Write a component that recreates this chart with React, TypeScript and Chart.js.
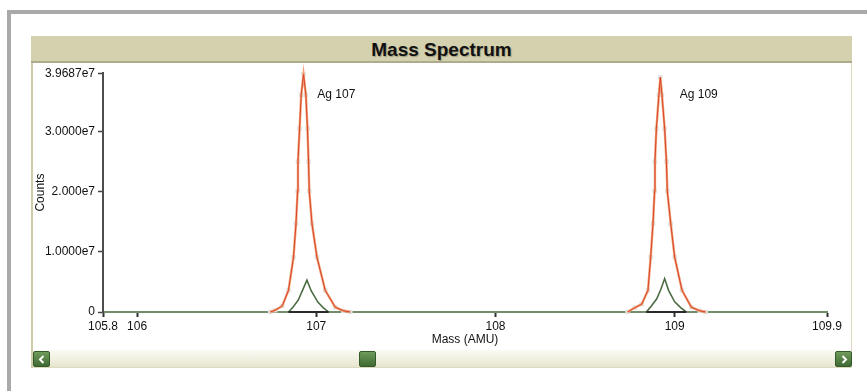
import React, { useEffect, useRef } from "react";
import { Chart, registerables } from "chart.js";

Chart.register(...registerables);

// ---- data ----
const orangeMass107 = [106.743, 106.771, 106.81, 106.845, 106.873, 106.887, 106.896, 106.898, 106.907, 106.916, 106.929, 106.942, 106.951, 106.957, 106.961, 106.976, 107.004, 107.05, 107.106, 107.151, 107.19];
const orangeCounts107 = [0, 0.03e7, 0.1e7, 0.36e7, 0.91e7, 1.47e7, 2.01e7, 2.5e7, 3.05e7, 3.61e7, 3.95e7, 3.61e7, 3.05e7, 2.5e7, 2.01e7, 1.47e7, 0.91e7, 0.36e7, 0.08e7, 0.02e7, 0];

const orangeMass109 = [108.737, 108.777, 108.816, 108.851, 108.866, 108.879, 108.888, 108.89, 108.898, 108.912, 108.92, 108.929, 108.944, 108.954, 108.959, 108.978, 109.0, 109.041, 109.093, 109.14, 109.173];
const orangeCounts109 = [0, 0.07e7, 0.13e7, 0.36e7, 0.91e7, 1.47e7, 2.01e7, 2.5e7, 3.05e7, 3.61e7, 3.9e7, 3.61e7, 3.05e7, 2.5e7, 2.01e7, 1.47e7, 0.91e7, 0.36e7, 0.08e7, 0.02e7, 0];

const greenMass107 = [106.845, 106.87, 106.9, 106.922, 106.948, 106.972, 107.01, 107.04, 107.069];
const greenCounts107 = [0, 0.08e7, 0.2e7, 0.35e7, 0.53e7, 0.35e7, 0.16e7, 0.07e7, 0];

const greenMass109 = [108.842, 108.87, 108.9, 108.922, 108.944, 108.966, 109.0, 109.035, 109.065];
const greenCounts109 = [0, 0.1e7, 0.22e7, 0.37e7, 0.555e7, 0.36e7, 0.17e7, 0.07e7, 0];

const peakLabels = ["Ag 107", "Ag 109"];
const peakLabelMass = [107.006, 109.028];
const peakLabelCounts = [3.61e7, 3.61e7];

const xMin = 105.81;
const xMax = 109.85;
const xTickValues = [105.81, 106, 107, 108, 109, 109.85];
const xTickLabels = ["105.8", "106", "107", "108", "109", "109.9"];

const yMax = 3.9687e7;
const yTickValues = [0, 1e7, 2e7, 3e7, 3.9687e7];
const yTickLabels = ["0", "1.0000e7", "2.000e7", "3.0000e7", "3.9687e7"];

const zip = (xs: number[], ys: number[]) => xs.map((x, i) => ({ x, y: ys[i] }));

const FONT = "'Liberation Sans', Arial, sans-serif";

const labelPlugin = {
  id: "peakLabels",
  afterDatasetsDraw(chart: any) {
    const { ctx, scales } = chart;
    ctx.save();
    ctx.font = `12px ${FONT}`;
    ctx.fillStyle = "#111";
    ctx.textAlign = "left";
    ctx.textBaseline = "middle";
    peakLabels.forEach((t, i) => {
      ctx.fillText(t, scales.x.getPixelForValue(peakLabelMass[i]), scales.y.getPixelForValue(peakLabelCounts[i]));
    });
    ctx.restore();
  },
};

function Chevron({ dir }: { dir: "l" | "r" }) {
  return (
    <svg width="16" height="15" style={{ position: "absolute", left: 0, top: 0 }}>
      <polyline
        points={dir === "l" ? "9.5,4 6,7.5 9.5,11" : "6.5,4 10,7.5 6.5,11"}
        fill="none"
        stroke="#fff"
        strokeWidth="2"
      />
    </svg>
  );
}

const btnStyle: React.CSSProperties = {
  position: "absolute",
  width: 15,
  height: 14,
  top: 351,
  background: "linear-gradient(#6f9c5c, #3f6a33)",
  border: "1px solid #34592b",
  borderRadius: 2,
};

export default function App() {
  const ref = useRef<HTMLCanvasElement>(null);

  useEffect(() => {
    if (!ref.current) return;
    const grayPts = (data: any) => ({
      data,
      borderColor: "rgba(0,0,0,0)",
      backgroundColor: "#e2e2e2",
      pointRadius: 3.2,
      pointStyle: "rect",
      showLine: false,
      order: 10,
      clip: false as any,
    });
    const orangeWide = (data: any) => ({
      data,
      borderColor: "#f0a276",
      borderWidth: 2.4,
      pointRadius: 0,
      tension: 0,
      order: 3,
      clip: false as any,
    });
    const orangeCore = (data: any) => ({
      data,
      borderColor: "#d9452b",
      borderWidth: 1,
      pointRadius: 0,
      tension: 0,
      order: 2,
      clip: false as any,
    });
    const green = (data: any) => ({
      data,
      borderColor: "#4b6c43",
      borderWidth: 1.6,
      pointRadius: 0,
      tension: 0,
      order: 1,
      clip: false as any,
    });
    const base = (m: number[]) => ({
      data: [{ x: m[0], y: 0 }, { x: m[m.length - 1], y: 0 }],
      borderColor: "#2a2a2a",
      borderWidth: 2,
      pointRadius: 0,
      order: 0,
      clip: false as any,
    });
    const o107 = zip(orangeMass107, orangeCounts107);
    const o109 = zip(orangeMass109, orangeCounts109);
    const g107 = zip(greenMass107, greenCounts107);
    const g109 = zip(greenMass109, greenCounts109);

    const chart = new Chart(ref.current, {
      type: "line",
      data: {
        datasets: [
          grayPts(o107) as any,
          grayPts(o109) as any,
          orangeWide(o107),
          orangeWide(o109),
          orangeCore(o107),
          orangeCore(o109),
          base(greenMass107),
          base(greenMass109),
          green(g107),
          green(g109),
        ],
      },
      options: {
        animation: false,
        responsive: false,
        maintainAspectRatio: false,
        layout: { padding: { top: 7, right: 23, left: 0, bottom: 0 } },
        plugins: { legend: { display: false }, tooltip: { enabled: false } },
        scales: {
          x: {
            type: "linear",
            min: xMin,
            max: xMax,
            afterBuildTicks: (s: any) => {
              s.ticks = xTickValues.map((v) => ({ value: v }));
            },
            afterFit: (s: any) => {
              s.height = 37;
            },
            ticks: {
              autoSkip: false,
              maxRotation: 0,
              padding: 2,
              color: "#111",
              font: { family: FONT, size: 12 },
              callback: (v: any) => {
                const i = xTickValues.indexOf(Number(v));
                return i >= 0 ? xTickLabels[i] : "";
              },
            },
            grid: { drawOnChartArea: false, drawTicks: true, tickLength: 5, tickColor: "#333", tickWidth: 2 },
            border: { display: true, color: "#738c6b", width: 2 },
            title: {
              display: true,
              text: "Mass (AMU)",
              color: "#111",
              font: { family: FONT, size: 12 },
              padding: { top: 0, bottom: 2 },
            },
          },
          y: {
            type: "linear",
            min: 0,
            max: yMax,
            afterBuildTicks: (s: any) => {
              s.ticks = yTickValues.map((v) => ({ value: v }));
            },
            afterFit: (s: any) => {
              s.width = 70;
            },
            ticks: {
              autoSkip: false,
              padding: 3,
              color: "#111",
              font: { family: FONT, size: 12 },
              callback: (v: any) => {
                const i = yTickValues.indexOf(Number(v));
                return i >= 0 ? yTickLabels[i] : "";
              },
            },
            grid: { drawOnChartArea: false, drawTicks: true, tickLength: 5, tickColor: "#444", tickWidth: 1.5 },
            border: { display: true, color: "#4d4d4d", width: 2 },
            title: {
              display: true,
              text: "Counts",
              color: "#111",
              font: { family: FONT, size: 12 },
              padding: { top: 0, bottom: 0 },
            },
          },
        },
      },
      plugins: [labelPlugin],
    });
    return () => chart.destroy();
  }, []);

  return (
    <div style={{ position: "absolute", left: 0, top: 0, width: 867, height: 391, background: "#fff", overflow: "hidden", fontFamily: FONT }}>
      {/* outer gray frame */}
      <div style={{ position: "absolute", left: 7, top: 10, width: 860, height: 4, background: "#a9a9a9" }} />
      <div style={{ position: "absolute", left: 7, top: 10, width: 4, height: 381, background: "#a9a9a9" }} />
      {/* panel */}
      <div style={{ position: "absolute", left: 31, top: 36, width: 819, height: 330, border: "1px solid #dcdabd", background: "#fff" }} />
      <div style={{ position: "absolute", left: 31, top: 36, width: 821, height: 25, background: "#d4d2ae", borderBottom: "2px solid #aeac8c" }} />
      <div style={{ position: "absolute", left: 31, top: 36, width: 821, height: 27, lineHeight: "27px", textAlign: "center", fontWeight: "bold", fontSize: 19, color: "#111", textShadow: "1px 1px 1px rgba(0,0,0,0.25)" }}>
        Mass Spectrum
      </div>
      <div style={{ position: "absolute", left: 31, top: 63, width: 2, height: 305, background: "#cfcda9" }} />
      {/* scrollbar */}
      <div style={{ position: "absolute", left: 33, top: 350, width: 817, height: 17, background: "linear-gradient(#fbfbf4, #e7e5d0)" }} />
      <div style={{ ...btnStyle, left: 33 }}>
        <Chevron dir="l" />
      </div>
      <div style={{ ...btnStyle, left: 359 }} />
      <div style={{ ...btnStyle, left: 835 }}>
        <Chevron dir="r" />
      </div>
      <canvas ref={ref} width={817} height={286} style={{ position: "absolute", left: 33, top: 63, width: 817, height: 286 }} />
    </div>
  );
}
